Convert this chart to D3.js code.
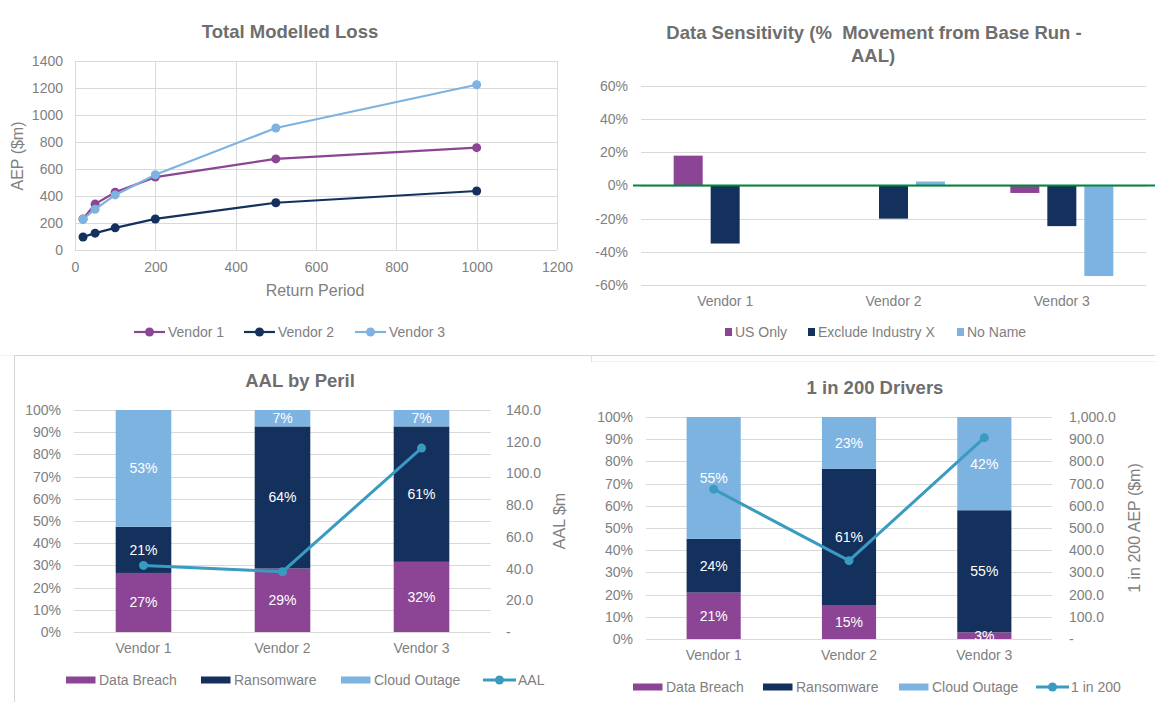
<!DOCTYPE html>
<html>
<head>
<meta charset="UTF-8">
<title>Vendor Model Comparison</title>
<script src="https://cdnjs.cloudflare.com/ajax/libs/d3/7.8.5/d3.min.js"></script>
<style>
  body { margin: 0; background: #fff; }
  svg { display: block; font-family: "Liberation Sans", Arial, sans-serif; }
  .title { font-size: 18.5px; font-weight: bold; fill: #6e6e6e; text-anchor: middle; white-space: pre; }
  .tick text { font-size: 14px; fill: #808080; }
  .grid line { stroke: #d9d9d9; stroke-width: 1; }
  .axis-title { font-size: 16px; fill: #808080; text-anchor: middle; }
  .legend text { font-size: 14px; fill: #808080; }
  .seg-label { font-size: 14px; fill: #fff; text-anchor: middle; }
</style>
</head>
<body>
<div id="chart"></div>
<script>
// ---- data ----
const returnPeriods = [20, 50, 100, 200, 500, 1000];
const vendor1Loss = [230, 340, 428, 540, 675, 758];
const vendor2Loss = [96, 125, 164, 230, 350, 437];
const vendor3Loss = [228, 302, 408, 557, 904, 1224];
const lossNames = ["Vendor 1", "Vendor 2", "Vendor 3"];

const vendors = ["Vendor 1", "Vendor 2", "Vendor 3"];
const sensNames = ["US Only", "Exclude Industry X", "No Name"];
const usOnly = [0.18, 0, -0.045];
const excludeIndustryX = [-0.35, -0.20, -0.245];
const noName = [0, 0.024, -0.546];

const perilNames = ["Data Breach", "Ransomware", "Cloud Outage"];
const aalDataBreach = [0.266, 0.286, 0.316];
const aalRansomware = [0.208, 0.640, 0.610];
const aalCloudOutage = [0.526, 0.074, 0.074];
const aalValues = [42, 38, 116];

const rpDataBreach = [0.209, 0.153, 0.030];
const rpRansomware = [0.242, 0.614, 0.550];
const rpCloudOutage = [0.549, 0.233, 0.420];
const rp200Values = [675, 353, 907];

const purple = "#8c4594", navy = "#13315c", lightBlue = "#7db3e1", teal = "#3a9bc1";
const seriesColors = [purple, navy, lightBlue];
const pct = d => Math.round(d * 100) + "%";

const svg = d3.select("#chart").append("svg")
    .attr("width", 1155)
    .attr("height", 702);

// panel separators
svg.append("line").attr("x1", 0).attr("x2", 14).attr("y1", 355.5).attr("y2", 355.5).attr("stroke", "#f3f3f3");
svg.append("line").attr("x1", 14).attr("x2", 1155).attr("y1", 355.5).attr("y2", 355.5).attr("stroke", "#d4d4d4");
svg.append("line").attr("x1", 14.5).attr("x2", 14.5).attr("y1", 355).attr("y2", 702).attr("stroke", "#d4d4d4");
svg.append("line").attr("x1", 591).attr("x2", 1155).attr("y1", 361.5).attr("y2", 361.5).attr("stroke", "#f0f0f0");
svg.append("line").attr("x1", 591.5).attr("x2", 591.5).attr("y1", 355).attr("y2", 362).attr("stroke", "#e2e2e2");

function stripAxis(g) {
    g.select(".domain").remove();
    g.selectAll(".tick line").remove();
}

// ---- chart 1: Total Modelled Loss ----
{
    const g = svg.append("g");
    const x = d3.scaleLinear().domain([0, 1200]).range([75, 557]);
    const y = d3.scaleLinear().domain([0, 1400]).range([250, 61]);

    const grid = g.append("g").attr("class", "grid");
    grid.selectAll("line.h").data(y.ticks(7)).join("line").attr("class", "h")
        .attr("x1", 75).attr("x2", 557)
        .attr("y1", d => Math.round(y(d)) + 0.5).attr("y2", d => Math.round(y(d)) + 0.5);
    grid.selectAll("line.v").data(x.ticks(6)).join("line").attr("class", "v")
        .attr("x1", d => Math.round(x(d)) + 0.5).attr("x2", d => Math.round(x(d)) + 0.5)
        .attr("y1", 61).attr("y2", 250);

    g.append("g").attr("transform", "translate(75,0)")
        .call(d3.axisLeft(y).ticks(7).tickFormat(d3.format("d")).tickSize(0).tickPadding(12))
        .call(stripAxis);
    g.append("g").attr("transform", "translate(0,250)")
        .call(d3.axisBottom(x).ticks(6).tickFormat(d3.format("d")).tickSize(0).tickPadding(12))
        .call(stripAxis);

    const series = [vendor1Loss, vendor2Loss, vendor3Loss].map((values, i) => ({
        name: lossNames[i], values, color: seriesColors[i]
    }));
    const line = d3.line().x((d, i) => x(returnPeriods[i])).y(d => y(d));

    series.forEach(s => {
        g.append("path").datum(s.values)
            .attr("fill", "none").attr("stroke", s.color).attr("stroke-width", 2.2)
            .attr("d", line);
        g.selectAll(null).data(s.values).join("circle")
            .attr("cx", (d, i) => x(returnPeriods[i])).attr("cy", d => y(d))
            .attr("r", 4.5).attr("fill", s.color);
    });

    g.append("text").attr("class", "title").attr("x", 290).attr("y", 37.5).text("Total Modelled Loss");
    g.append("text").attr("class", "axis-title")
        .attr("transform", "translate(22.5,156) rotate(-90)").text("AEP ($m)");
    g.append("text").attr("class", "axis-title").attr("x", 315).attr("y", 296).text("Return Period");

    const legendX = [134, 244, 355];
    const lg = g.append("g").attr("class", "legend");
    series.forEach((s, i) => {
        const lx = legendX[i];
        lg.append("line").attr("x1", lx).attr("x2", lx + 31).attr("y1", 332).attr("y2", 332)
            .attr("stroke", s.color).attr("stroke-width", 2.2);
        lg.append("circle").attr("cx", lx + 15.5).attr("cy", 332).attr("r", 4.5).attr("fill", s.color);
        lg.append("text").attr("x", lx + 34).attr("y", 337).text(s.name);
    });
}

// ---- chart 2: Data Sensitivity ----
{
    const g = svg.append("g");
    const left = 641, right = 1146;
    const y = d3.scaleLinear().domain([-0.6, 0.6]).range([285, 86]);
    const x0 = d3.scaleBand().domain(vendors).range([left, right]);
    const x1 = d3.scaleBand().domain(sensNames).range([0, 103]).paddingInner(0.216);

    g.append("g").attr("class", "grid").selectAll("line").data(y.ticks(6)).join("line")
        .attr("x1", left).attr("x2", right)
        .attr("y1", d => Math.round(y(d)) + 0.5).attr("y2", d => Math.round(y(d)) + 0.5);

    g.append("g").attr("transform", `translate(${left},0)`)
        .call(d3.axisLeft(y).ticks(6).tickFormat(pct).tickSize(0).tickPadding(13)).call(stripAxis);
    g.append("g").attr("transform", "translate(0,285)")
        .call(d3.axisBottom(x0).tickSize(0).tickPadding(11)).call(stripAxis);

    const sensValues = [usOnly, excludeIndustryX, noName];
    sensValues.forEach((vals, k) => {
        g.selectAll(null).data(vals).join("rect")
            .attr("x", (d, i) => x0(vendors[i]) + x0.bandwidth() / 2 - 51.5 + x1(sensNames[k]))
            .attr("width", x1.bandwidth())
            .attr("y", d => y(Math.max(0, d)))
            .attr("height", d => Math.abs(y(d) - y(0)))
            .attr("fill", seriesColors[k]);
    });

    g.append("line").attr("x1", 633).attr("x2", 1155).attr("y1", y(0)).attr("y2", y(0))
        .attr("stroke", "#00873e").attr("stroke-width", 2);

    g.append("text").attr("class", "title").attr("x", 874).attr("y", 38.5)
        .text("Data Sensitivity (%  Movement from Base Run -");
    g.append("text").attr("class", "title").attr("x", 873).attr("y", 61.5).text("AAL)");

    const legendX = [725, 808, 957];
    const lg = g.append("g").attr("class", "legend");
    sensNames.forEach((name, i) => {
        lg.append("rect").attr("x", legendX[i]).attr("y", 328).attr("width", 7).attr("height", 8)
            .attr("fill", seriesColors[i]);
        lg.append("text").attr("x", legendX[i] + 10).attr("y", 337).text(name);
    });
}

// ---- charts 3 & 4: stacked share + line on secondary axis ----
function drawStacked(cfg) {
    const g = svg.append("g");
    const y = d3.scaleLinear().domain([0, 1]).range([cfg.bottom, cfg.top]);
    const yR = d3.scaleLinear().domain([0, cfg.lineMax]).range([cfg.bottom, cfg.top]);
    const x = d3.scaleBand().domain(vendors).range([cfg.left, cfg.right])
        .paddingInner(0.6).paddingOuter(0.3);

    g.append("g").attr("class", "grid").selectAll("line").data(y.ticks(10)).join("line")
        .attr("x1", cfg.left).attr("x2", cfg.right)
        .attr("y1", d => Math.round(y(d)) + 0.5).attr("y2", d => Math.round(y(d)) + 0.5);

    g.append("g").attr("transform", `translate(${cfg.left},0)`)
        .call(d3.axisLeft(y).ticks(10).tickFormat(pct).tickSize(0).tickPadding(13)).call(stripAxis);
    g.append("g").attr("transform", `translate(${cfg.rightLabelX},0)`)
        .call(d3.axisRight(yR).tickValues(d3.range(0, cfg.lineMax + 1, cfg.lineStep))
            .tickFormat(d => d === 0 ? "-" : cfg.lineFormat(d)).tickSize(0).tickPadding(0))
        .call(stripAxis);
    g.append("g").attr("transform", `translate(0,${cfg.bottom})`)
        .call(d3.axisBottom(x).tickSize(0).tickPadding(11)).call(stripAxis);

    const rows = vendors.map((v, i) => {
        const r = { vendor: v };
        perilNames.forEach((p, k) => { r[p] = cfg.shares[k][i]; });
        return r;
    });
    const stacked = d3.stack().keys(perilNames)(rows);

    stacked.forEach((layer, k) => {
        g.selectAll(null).data(layer).join("rect")
            .attr("x", d => x(d.data.vendor))
            .attr("width", x.bandwidth())
            .attr("y", d => y(d[1]))
            .attr("height", d => y(d[0]) - y(d[1]))
            .attr("fill", seriesColors[k]);
    });
    stacked.forEach(layer => {
        g.selectAll(null).data(layer).join("text")
            .attr("class", "seg-label")
            .attr("x", d => x(d.data.vendor) + x.bandwidth() / 2)
            .attr("y", d => y((d[0] + d[1]) / 2))
            .attr("dy", "0.35em")
            .text(d => pct(d[1] - d[0]));
    });

    const cx = v => x(v) + x.bandwidth() / 2;
    g.append("path").datum(cfg.line)
        .attr("fill", "none").attr("stroke", teal).attr("stroke-width", 3)
        .attr("d", d3.line().x((d, i) => cx(vendors[i])).y(d => yR(d)));
    g.selectAll(null).data(cfg.line).join("circle")
        .attr("cx", (d, i) => cx(vendors[i])).attr("cy", d => yR(d))
        .attr("r", 4.5).attr("fill", teal);

    g.append("text").attr("class", "title").attr("x", cfg.titleX).attr("y", cfg.titleY).text(cfg.title);
    g.append("text").attr("class", "axis-title")
        .attr("transform", `translate(${cfg.rightTitleX},${(cfg.top + cfg.bottom) / 2}) rotate(-90)`)
        .text(cfg.rightTitle);

    const lg = g.append("g").attr("class", "legend");
    const ly = cfg.legendY;
    perilNames.forEach((name, k) => {
        const lx = cfg.legendX[k];
        lg.append("rect").attr("x", lx).attr("y", ly - 3.5).attr("width", 29.5).attr("height", 7)
            .attr("fill", seriesColors[k]);
        lg.append("text").attr("x", lx + 33).attr("y", ly + 5).text(name);
    });
    const lx = cfg.legendX[3];
    lg.append("line").attr("x1", lx).attr("x2", lx + 33).attr("y1", ly).attr("y2", ly)
        .attr("stroke", teal).attr("stroke-width", 3);
    lg.append("circle").attr("cx", lx + 16.5).attr("cy", ly).attr("r", 4.5).attr("fill", teal);
    lg.append("text").attr("x", lx + 35).attr("y", ly + 5).text(cfg.lineName);
}

drawStacked({
    top: 410, bottom: 632, left: 74, right: 491,
    shares: [aalDataBreach, aalRansomware, aalCloudOutage],
    line: aalValues, lineMax: 140, lineStep: 20, lineFormat: d3.format(".1f"),
    rightLabelX: 506, rightTitleX: 565, rightTitle: "AAL $m",
    title: "AAL by Peril", titleX: 300, titleY: 386.5,
    legendY: 680, legendX: [66, 201, 341, 483], lineName: "AAL"
});

drawStacked({
    top: 417, bottom: 639, left: 646, right: 1052,
    shares: [rpDataBreach, rpRansomware, rpCloudOutage],
    line: rp200Values, lineMax: 1000, lineStep: 100, lineFormat: d3.format(",.1f"),
    rightLabelX: 1069, rightTitleX: 1140, rightTitle: "1 in 200 AEP ($m)",
    title: "1 in 200 Drivers", titleX: 875, titleY: 393.5,
    legendY: 687, legendX: [633, 763, 899, 1036], lineName: "1 in 200"
});
</script>
</body>
</html>
